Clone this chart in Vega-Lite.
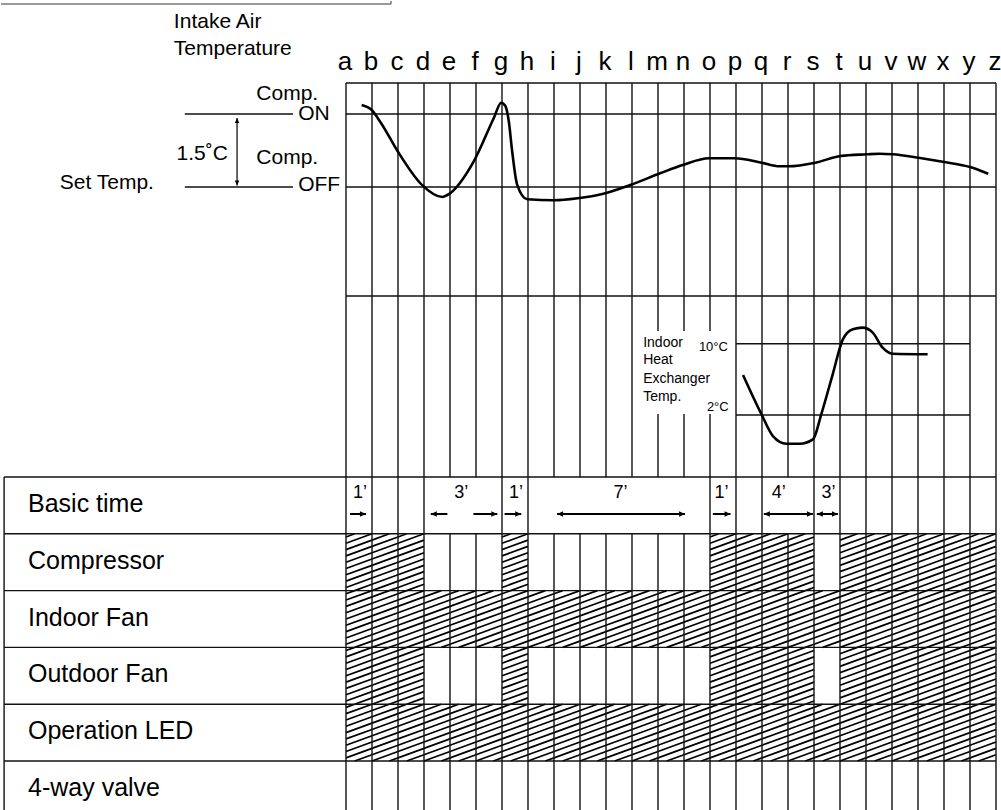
{
  "$schema": "https://vega.github.io/schema/vega-lite/v6.json",
  "padding": 0,
  "spacing": 0,
  "bounds": "flush",
  "background": "white",
  "config": {
    "view": {"stroke": null},
    "axis": {"disable": true},
    "legend": {"disable": true},
    "text": {"font": "Liberation Sans", "color": "black"},
    "concat": {"spacing": 0}
  },
  "datasets": {
    "cols": [
      {"col": 0, "letter": "a", "bt": 1}, {"col": 1, "letter": "b", "bt": 1}, {"col": 2, "letter": "c", "bt": 1},
      {"col": 3, "letter": "d", "bt": 1}, {"col": 4, "letter": "e", "bt": 0}, {"col": 5, "letter": "f", "bt": 0},
      {"col": 6, "letter": "g", "bt": 1}, {"col": 7, "letter": "h", "bt": 1}, {"col": 8, "letter": "i", "bt": 0},
      {"col": 9, "letter": "j", "bt": 0}, {"col": 10, "letter": "k", "bt": 0}, {"col": 11, "letter": "l", "bt": 0},
      {"col": 12, "letter": "m", "bt": 0}, {"col": 13, "letter": "n", "bt": 0}, {"col": 14, "letter": "o", "bt": 1},
      {"col": 15, "letter": "p", "bt": 1}, {"col": 16, "letter": "q", "bt": 1}, {"col": 17, "letter": "r", "bt": 0},
      {"col": 18, "letter": "s", "bt": 1}, {"col": 19, "letter": "t", "bt": 1}, {"col": 20, "letter": "u", "bt": 1},
      {"col": 21, "letter": "v", "bt": 1}, {"col": 22, "letter": "w", "bt": 1}, {"col": 23, "letter": "x", "bt": 1},
      {"col": 24, "letter": "y", "bt": 1}, {"col": 25, "letter": "z", "bt": 1}
    ],
    "intake": [
      {"col": 0.60, "temp": 1.685}, {"col": 0.96, "temp": 1.596}, {"col": 1.34, "temp": 1.321},
      {"col": 1.98, "temp": 0.740}, {"col": 2.90, "temp": 0.055}, {"col": 3.71, "temp": -0.205},
      {"col": 3.90, "temp": -0.164}, {"col": 4.92, "temp": 0.534}, {"col": 5.69, "temp": 1.424},
      {"col": 5.97, "temp": 1.732}, {"col": 6.13, "temp": 1.664}, {"col": 6.26, "temp": 1.356},
      {"col": 6.39, "temp": 0.740}, {"col": 6.58, "temp": 0.055}, {"col": 6.97, "temp": -0.253},
      {"col": 7.99, "temp": -0.273}, {"col": 8.91, "temp": -0.232}, {"col": 9.90, "temp": -0.138},
      {"col": 10.93, "temp": 0.041}, {"col": 12.08, "temp": 0.281}, {"col": 12.95, "temp": 0.452},
      {"col": 13.96, "temp": 0.590}, {"col": 14.95, "temp": 0.590}, {"col": 15.98, "temp": 0.499},
      {"col": 16.68, "temp": 0.425}, {"col": 17.02, "temp": 0.425}, {"col": 18.05, "temp": 0.499},
      {"col": 19.02, "temp": 0.637}, {"col": 20.03, "temp": 0.672}, {"col": 20.51, "temp": 0.684},
      {"col": 21.02, "temp": 0.672}, {"col": 22.02, "temp": 0.602}, {"col": 23.01, "temp": 0.514},
      {"col": 24.00, "temp": 0.411}, {"col": 24.70, "temp": 0.273}
    ],
    "hx": [
      {"col": 15.27, "temp": 6.49}, {"col": 15.98, "temp": 2.08}, {"col": 16.42, "temp": -0.36},
      {"col": 16.94, "temp": -1.22}, {"col": 17.45, "temp": -1.22}, {"col": 17.96, "temp": -0.73},
      {"col": 18.28, "temp": 2.08}, {"col": 18.72, "temp": 6.57}, {"col": 19.11, "temp": 10.49},
      {"col": 19.49, "temp": 11.62}, {"col": 19.87, "temp": 11.80}, {"col": 20.26, "temp": 11.24},
      {"col": 20.64, "temp": 9.55}, {"col": 21.02, "temp": 8.88}, {"col": 22.37, "temp": 8.81}
    ],
    "hatch": [
      {"signal": "Compressor", "row": 1, "col": 0}, {"signal": "Compressor", "row": 1, "col": 1}, {"signal": "Compressor", "row": 1, "col": 2},
      {"signal": "Compressor", "row": 1, "col": 6}, {"signal": "Compressor", "row": 1, "col": 14}, {"signal": "Compressor", "row": 1, "col": 15},
      {"signal": "Compressor", "row": 1, "col": 16}, {"signal": "Compressor", "row": 1, "col": 17}, {"signal": "Compressor", "row": 1, "col": 19},
      {"signal": "Compressor", "row": 1, "col": 20}, {"signal": "Compressor", "row": 1, "col": 21}, {"signal": "Compressor", "row": 1, "col": 22},
      {"signal": "Compressor", "row": 1, "col": 23}, {"signal": "Compressor", "row": 1, "col": 24},
      {"signal": "Indoor Fan", "row": 2, "col": 0}, {"signal": "Indoor Fan", "row": 2, "col": 1}, {"signal": "Indoor Fan", "row": 2, "col": 2},
      {"signal": "Indoor Fan", "row": 2, "col": 3}, {"signal": "Indoor Fan", "row": 2, "col": 4}, {"signal": "Indoor Fan", "row": 2, "col": 5},
      {"signal": "Indoor Fan", "row": 2, "col": 6}, {"signal": "Indoor Fan", "row": 2, "col": 7}, {"signal": "Indoor Fan", "row": 2, "col": 8},
      {"signal": "Indoor Fan", "row": 2, "col": 9}, {"signal": "Indoor Fan", "row": 2, "col": 10}, {"signal": "Indoor Fan", "row": 2, "col": 11},
      {"signal": "Indoor Fan", "row": 2, "col": 12}, {"signal": "Indoor Fan", "row": 2, "col": 13}, {"signal": "Indoor Fan", "row": 2, "col": 14},
      {"signal": "Indoor Fan", "row": 2, "col": 15}, {"signal": "Indoor Fan", "row": 2, "col": 16}, {"signal": "Indoor Fan", "row": 2, "col": 17},
      {"signal": "Indoor Fan", "row": 2, "col": 18}, {"signal": "Indoor Fan", "row": 2, "col": 19}, {"signal": "Indoor Fan", "row": 2, "col": 20},
      {"signal": "Indoor Fan", "row": 2, "col": 21}, {"signal": "Indoor Fan", "row": 2, "col": 22}, {"signal": "Indoor Fan", "row": 2, "col": 23},
      {"signal": "Indoor Fan", "row": 2, "col": 24},
      {"signal": "Outdoor Fan", "row": 3, "col": 0}, {"signal": "Outdoor Fan", "row": 3, "col": 1}, {"signal": "Outdoor Fan", "row": 3, "col": 2},
      {"signal": "Outdoor Fan", "row": 3, "col": 6}, {"signal": "Outdoor Fan", "row": 3, "col": 14}, {"signal": "Outdoor Fan", "row": 3, "col": 15},
      {"signal": "Outdoor Fan", "row": 3, "col": 16}, {"signal": "Outdoor Fan", "row": 3, "col": 17}, {"signal": "Outdoor Fan", "row": 3, "col": 19},
      {"signal": "Outdoor Fan", "row": 3, "col": 20}, {"signal": "Outdoor Fan", "row": 3, "col": 21}, {"signal": "Outdoor Fan", "row": 3, "col": 22},
      {"signal": "Outdoor Fan", "row": 3, "col": 23}, {"signal": "Outdoor Fan", "row": 3, "col": 24},
      {"signal": "Operation LED", "row": 4, "col": 0}, {"signal": "Operation LED", "row": 4, "col": 1}, {"signal": "Operation LED", "row": 4, "col": 2},
      {"signal": "Operation LED", "row": 4, "col": 3}, {"signal": "Operation LED", "row": 4, "col": 4}, {"signal": "Operation LED", "row": 4, "col": 5},
      {"signal": "Operation LED", "row": 4, "col": 6}, {"signal": "Operation LED", "row": 4, "col": 7}, {"signal": "Operation LED", "row": 4, "col": 8},
      {"signal": "Operation LED", "row": 4, "col": 9}, {"signal": "Operation LED", "row": 4, "col": 10}, {"signal": "Operation LED", "row": 4, "col": 11},
      {"signal": "Operation LED", "row": 4, "col": 12}, {"signal": "Operation LED", "row": 4, "col": 13}, {"signal": "Operation LED", "row": 4, "col": 14},
      {"signal": "Operation LED", "row": 4, "col": 15}, {"signal": "Operation LED", "row": 4, "col": 16}, {"signal": "Operation LED", "row": 4, "col": 17},
      {"signal": "Operation LED", "row": 4, "col": 18}, {"signal": "Operation LED", "row": 4, "col": 19}, {"signal": "Operation LED", "row": 4, "col": 20},
      {"signal": "Operation LED", "row": 4, "col": 21}, {"signal": "Operation LED", "row": 4, "col": 22}, {"signal": "Operation LED", "row": 4, "col": 23},
      {"signal": "Operation LED", "row": 4, "col": 24}
    ],
    "rows": [
      {"label": "Basic time", "row": 0}, {"label": "Compressor", "row": 1}, {"label": "Indoor Fan", "row": 2},
      {"label": "Outdoor Fan", "row": 3}, {"label": "Operation LED", "row": 4}, {"label": "4-way valve", "row": 5}
    ],
    "btLabels": [
      {"t": "1’", "x": 0.54}, {"t": "3’", "x": 4.43}, {"t": "1’", "x": 6.54}, {"t": "7’", "x": 10.56},
      {"t": "1’", "x": 14.44}, {"t": "4’", "x": 16.64}, {"t": "3’", "x": 18.56}
    ],
    "btArrows": [
      {"x": 0.153, "x2": 0.767}, {"x": 3.26, "x2": 3.90}, {"x": 4.90, "x2": 5.82}, {"x": 6.10, "x2": 6.74},
      {"x": 8.12, "x2": 13.04}, {"x": 14.11, "x2": 14.79}, {"x": 16.07, "x2": 17.96}, {"x": 18.11, "x2": 18.92}
    ],
    "btHeads": [
      {"x": 0.767, "dir": "right"}, {"x": 3.26, "dir": "left"}, {"x": 5.82, "dir": "right"}, {"x": 6.74, "dir": "right"},
      {"x": 8.12, "dir": "left"}, {"x": 13.04, "dir": "right"}, {"x": 14.79, "dir": "right"}, {"x": 16.07, "dir": "left"},
      {"x": 17.96, "dir": "right"}, {"x": 18.11, "dir": "left"}, {"x": 18.92, "dir": "right"}
    ],
    "tableH": [
      {"x": -13.15, "x2": 25, "y": 0}, {"x": -13.15, "x2": 25, "y": 1}, {"x": -13.15, "x2": 25, "y": 2},
      {"x": -13.15, "x2": 25, "y": 3}, {"x": -13.15, "x2": 25, "y": 4}, {"x": -13.15, "x2": 25, "y": 5}
    ],
    "topH": [
      {"x": 0, "x2": 25, "y": 2.137}, {"x": 0, "x2": 25, "y": 1.5}, {"x": 0, "x2": 25, "y": 0},
      {"x": -6.2, "x2": -2.04, "y": 1.5}, {"x": -6.2, "x2": -2.04, "y": 0}
    ],
    "topText": [
      {"t": "Intake Air", "x": -6.62, "y": 3.39},
      {"t": "Temperature", "x": -6.62, "y": 2.835},
      {"t": "Comp.", "x": -3.45, "y": 1.911},
      {"t": "ON", "x": -1.84, "y": 1.5},
      {"t": "1.5˚C", "x": -6.52, "y": 0.678},
      {"t": "Comp.", "x": -3.45, "y": 0.596},
      {"t": "Set Temp.", "x": -11.01, "y": 0.082},
      {"t": "OFF", "x": -1.84, "y": 0.041}
    ],
    "midText": [
      {"t": "Indoor", "x": 11.43, "y": 10.11},
      {"t": "Heat", "x": 11.43, "y": 8.17},
      {"t": "Exchanger", "x": 11.43, "y": 6.07},
      {"t": "Temp.", "x": 11.43, "y": 4.02}
    ],
    "midLevels": [
      {"t": "10°C", "x": 14.69, "y": 9.66, "level": 10},
      {"t": "2°C", "x": 14.72, "y": 2.93, "level": 2}
    ]
  },
  "vconcat": [
    {
      "width": 1001,
      "height": 295,
      "layer": [
        {
          "data": {"values": [{"x": -13.269, "x2": 1.73, "y": 3.76, "y2": 3.76}, {"x": 1.73, "x2": 1.73, "y": 3.76, "y2": 3.822}]},
          "mark": {"type": "rule", "color": "#777777", "strokeWidth": 1.5},
          "encoding": {
            "x": {"field": "x", "type": "quantitative", "scale": {"domain": [-13.269, 25.231]}},
            "x2": {"field": "x2"},
            "y": {"field": "y", "type": "quantitative", "scale": {"domain": [-2.2397, 3.822]}},
            "y2": {"field": "y2"}
          }
        },
        {
          "data": {"name": "topH"},
          "mark": {"type": "rule", "color": "#111111", "strokeWidth": 1.4},
          "encoding": {
            "x": {"field": "x", "type": "quantitative", "scale": {"domain": [-13.269, 25.231]}},
            "x2": {"field": "x2"},
            "y": {"field": "y", "type": "quantitative", "scale": {"domain": [-2.2397, 3.822]}}
          }
        },
        {
          "data": {"name": "cols"},
          "mark": {"type": "rule", "color": "#111111", "strokeWidth": 1.4},
          "encoding": {
            "x": {"field": "col", "type": "quantitative", "scale": {"domain": [-13.269, 25.231]}},
            "y": {"datum": 2.137, "type": "quantitative", "scale": {"domain": [-2.2397, 3.822]}},
            "y2": {"datum": -2.2397}
          }
        },
        {
          "data": {"name": "intake"},
          "mark": {"type": "line", "color": "black", "strokeWidth": 2.6, "interpolate": "monotone"},
          "encoding": {
            "x": {"field": "col", "type": "quantitative", "scale": {"domain": [-13.269, 25.231]}},
            "y": {"field": "temp", "type": "quantitative", "scale": {"domain": [-2.2397, 3.822]}}
          }
        },
        {
          "data": {"name": "cols"},
          "mark": {"type": "text", "fontSize": 26, "align": "center", "baseline": "middle", "dx": -1},
          "encoding": {
            "x": {"field": "col", "type": "quantitative", "scale": {"domain": [-13.269, 25.231]}},
            "y": {"datum": 2.568, "type": "quantitative", "scale": {"domain": [-2.2397, 3.822]}},
            "text": {"field": "letter"}
          }
        },
        {
          "data": {"name": "topText"},
          "mark": {"type": "text", "fontSize": 21, "align": "left", "baseline": "middle"},
          "encoding": {
            "x": {"field": "x", "type": "quantitative", "scale": {"domain": [-13.269, 25.231]}},
            "y": {"field": "y", "type": "quantitative", "scale": {"domain": [-2.2397, 3.822]}},
            "text": {"field": "t"}
          }
        },
        {
          "data": {"values": [{"x": -4.19, "y": 1.418, "y2": 0.031}]},
          "mark": {"type": "rule", "color": "black", "strokeWidth": 1.2},
          "encoding": {
            "x": {"field": "x", "type": "quantitative", "scale": {"domain": [-13.269, 25.231]}},
            "y": {"field": "y", "type": "quantitative", "scale": {"domain": [-2.2397, 3.822]}},
            "y2": {"field": "y2"}
          }
        },
        {
          "data": {"values": [{"x": -4.19, "y": 1.418, "dir": "up"}, {"x": -4.19, "y": 0.031, "dir": "down"}]},
          "mark": {"type": "point", "filled": true, "opacity": 1, "size": 100, "color": "black", "strokeWidth": 0},
          "encoding": {
            "x": {"field": "x", "type": "quantitative", "scale": {"domain": [-13.269, 25.231]}},
            "y": {"field": "y", "type": "quantitative", "scale": {"domain": [-2.2397, 3.822]}},
            "shape": {"field": "dir", "type": "nominal", "scale": {"domain": ["right", "left", "up", "down"], "range": ["M0,0L-1,-0.45L-1,0.45Z", "M0,0L1,-0.45L1,0.45Z", "M0,0L-0.45,1L0.45,1Z", "M0,0L-0.45,-1L0.45,-1Z"]}}
          }
        }
      ]
    },
    {
      "width": 1001,
      "height": 181,
      "layer": [
        {
          "data": {"name": "cols"},
          "mark": {"type": "rule", "color": "#111111", "strokeWidth": 1.4},
          "encoding": {
            "x": {"field": "col", "type": "quantitative", "scale": {"domain": [-13.269, 25.231]}},
            "y": {"datum": 15.352, "type": "quantitative", "scale": {"domain": [-4.957, 15.352]}},
            "y2": {"datum": -4.957}
          }
        },
        {
          "data": {"values": [{"x": 0, "x2": 25, "y": 15.352}, {"x": 15, "x2": 24, "y": 10}, {"x": 15, "x2": 24, "y": 2}]},
          "mark": {"type": "rule", "color": "#111111", "strokeWidth": 1.4},
          "encoding": {
            "x": {"field": "x", "type": "quantitative", "scale": {"domain": [-13.269, 25.231]}},
            "x2": {"field": "x2"},
            "y": {"field": "y", "type": "quantitative", "scale": {"domain": [-4.957, 15.352]}}
          }
        },
        {
          "data": {"values": [{"x": 11.69, "x2": 14.8, "y": 11.425, "y2": 2.112}]},
          "mark": {"type": "rect", "color": "white", "opacity": 1},
          "encoding": {
            "x": {"field": "x", "type": "quantitative", "scale": {"domain": [-13.269, 25.231]}},
            "x2": {"field": "x2"},
            "y": {"field": "y", "type": "quantitative", "scale": {"domain": [-4.957, 15.352]}},
            "y2": {"field": "y2"}
          }
        },
        {
          "data": {"name": "hx"},
          "mark": {"type": "line", "color": "black", "strokeWidth": 2.6, "interpolate": "monotone"},
          "encoding": {
            "x": {"field": "col", "type": "quantitative", "scale": {"domain": [-13.269, 25.231]}},
            "y": {"field": "temp", "type": "quantitative", "scale": {"domain": [-4.957, 15.352]}}
          }
        },
        {
          "data": {"name": "midText"},
          "mark": {"type": "text", "fontSize": 14, "align": "left", "baseline": "middle"},
          "encoding": {
            "x": {"field": "x", "type": "quantitative", "scale": {"domain": [-13.269, 25.231]}},
            "y": {"field": "y", "type": "quantitative", "scale": {"domain": [-4.957, 15.352]}},
            "text": {"field": "t"}
          }
        },
        {
          "data": {"name": "midLevels"},
          "mark": {"type": "text", "fontSize": 13, "align": "right", "baseline": "middle"},
          "encoding": {
            "x": {"field": "x", "type": "quantitative", "scale": {"domain": [-13.269, 25.231]}},
            "y": {"field": "y", "type": "quantitative", "scale": {"domain": [-4.957, 15.352]}},
            "text": {"field": "t"}
          }
        }
      ]
    },
    {
      "width": 1001,
      "height": 334,
      "resolve": {"scale": {"shape": "independent"}},
      "layer": [
        {
          "data": {"name": "hatch"},
          "mark": {"type": "point", "filled": false, "opacity": 1, "size": 3226.24, "color": "black", "strokeWidth": 1.7, "strokeCap": "butt"},
          "encoding": {
            "x": {"field": "col", "type": "quantitative", "scale": {"domain": [-13.269, 25.231]}},
            "y": {"field": "row", "type": "quantitative", "scale": {"domain": [0, 5.8803], "reverse": true}},
            "shape": {
              "field": "col", "type": "nominal",
              "scale": {
                "domain": [0, 1, 2, 3, 4, 5, 6, 7, 8, 9, 10, 11, 12, 13, 14, 15, 16, 17, 18, 19, 20, 21, 22, 23, 24],
                "range": [
                  "M0,0.1111L0.3051,0M0,0.3333L0.9155,0M0,0.5556L0.9155,0.2222M0,0.7778L0.9155,0.4444M0,1L0.9155,0.6667M0,1.2222L0.9155,0.8889M0,1.4444L0.9155,1.1111M0,1.6667L0.9155,1.3333M0,1.8889L0.9155,1.5556M0.3051,2L0.9155,1.7778",
                  "M0,0.2222L0.6103,0M0,0.4444L0.9155,0.1111M0,0.6667L0.9155,0.3333M0,0.8889L0.9155,0.5556M0,1.1111L0.9155,0.7778M0,1.3333L0.9155,1M0,1.5556L0.9155,1.2222M0,1.7778L0.9155,1.4444M0,2L0.9155,1.6667M0.6103,2L0.9155,1.8889"
                ]
              }
            }
          }
        },
        {
          "data": {"name": "tableH"},
          "mark": {"type": "rule", "color": "#111111", "strokeWidth": 1.4},
          "encoding": {
            "x": {"field": "x", "type": "quantitative", "scale": {"domain": [-13.269, 25.231]}},
            "x2": {"field": "x2"},
            "y": {"field": "y", "type": "quantitative", "scale": {"domain": [0, 5.8803], "reverse": true}}
          }
        },
        {
          "data": {"values": [{"x": -13.15}]},
          "mark": {"type": "rule", "color": "#111111", "strokeWidth": 1.4},
          "encoding": {
            "x": {"field": "x", "type": "quantitative", "scale": {"domain": [-13.269, 25.231]}},
            "y": {"datum": 0, "type": "quantitative", "scale": {"domain": [0, 5.8803], "reverse": true}},
            "y2": {"datum": 5.8803}
          }
        },
        {
          "data": {"name": "cols"},
          "mark": {"type": "rule", "color": "#111111", "strokeWidth": 1.4},
          "encoding": {
            "x": {"field": "col", "type": "quantitative", "scale": {"domain": [-13.269, 25.231]}},
            "y": {"datum": 1, "type": "quantitative", "scale": {"domain": [0, 5.8803], "reverse": true}},
            "y2": {"datum": 5.8803}
          }
        },
        {
          "data": {"name": "cols"},
          "transform": [{"filter": "datum.bt == 1"}],
          "mark": {"type": "rule", "color": "#111111", "strokeWidth": 1.4},
          "encoding": {
            "x": {"field": "col", "type": "quantitative", "scale": {"domain": [-13.269, 25.231]}},
            "y": {"datum": 0, "type": "quantitative", "scale": {"domain": [0, 5.8803], "reverse": true}},
            "y2": {"datum": 1}
          }
        },
        {
          "data": {"name": "rows"},
          "mark": {"type": "text", "fontSize": 25, "align": "left", "baseline": "middle", "dy": 27},
          "encoding": {
            "x": {"datum": -12.23, "type": "quantitative", "scale": {"domain": [-13.269, 25.231]}},
            "y": {"field": "row", "type": "quantitative", "scale": {"domain": [0, 5.8803], "reverse": true}},
            "text": {"field": "label"}
          }
        },
        {
          "data": {"name": "btLabels"},
          "mark": {"type": "text", "fontSize": 18, "align": "center", "baseline": "middle"},
          "encoding": {
            "x": {"field": "x", "type": "quantitative", "scale": {"domain": [-13.269, 25.231]}},
            "y": {"datum": 0.28, "type": "quantitative", "scale": {"domain": [0, 5.8803], "reverse": true}},
            "text": {"field": "t"}
          }
        },
        {
          "data": {"name": "btArrows"},
          "mark": {"type": "rule", "color": "black", "strokeWidth": 2},
          "encoding": {
            "x": {"field": "x", "type": "quantitative", "scale": {"domain": [-13.269, 25.231]}},
            "x2": {"field": "x2"},
            "y": {"datum": 0.651, "type": "quantitative", "scale": {"domain": [0, 5.8803], "reverse": true}}
          }
        },
        {
          "data": {"name": "btHeads"},
          "mark": {"type": "point", "filled": true, "opacity": 1, "size": 144, "color": "black", "strokeWidth": 0},
          "encoding": {
            "x": {"field": "x", "type": "quantitative", "scale": {"domain": [-13.269, 25.231]}},
            "y": {"datum": 0.651, "type": "quantitative", "scale": {"domain": [0, 5.8803], "reverse": true}},
            "shape": {"field": "dir", "type": "nominal", "scale": {"domain": ["right", "left", "up", "down"], "range": ["M0,0L-1,-0.45L-1,0.45Z", "M0,0L1,-0.45L1,0.45Z", "M0,0L-0.45,1L0.45,1Z", "M0,0L-0.45,-1L0.45,-1Z"]}}
          }
        }
      ]
    }
  ]
}
